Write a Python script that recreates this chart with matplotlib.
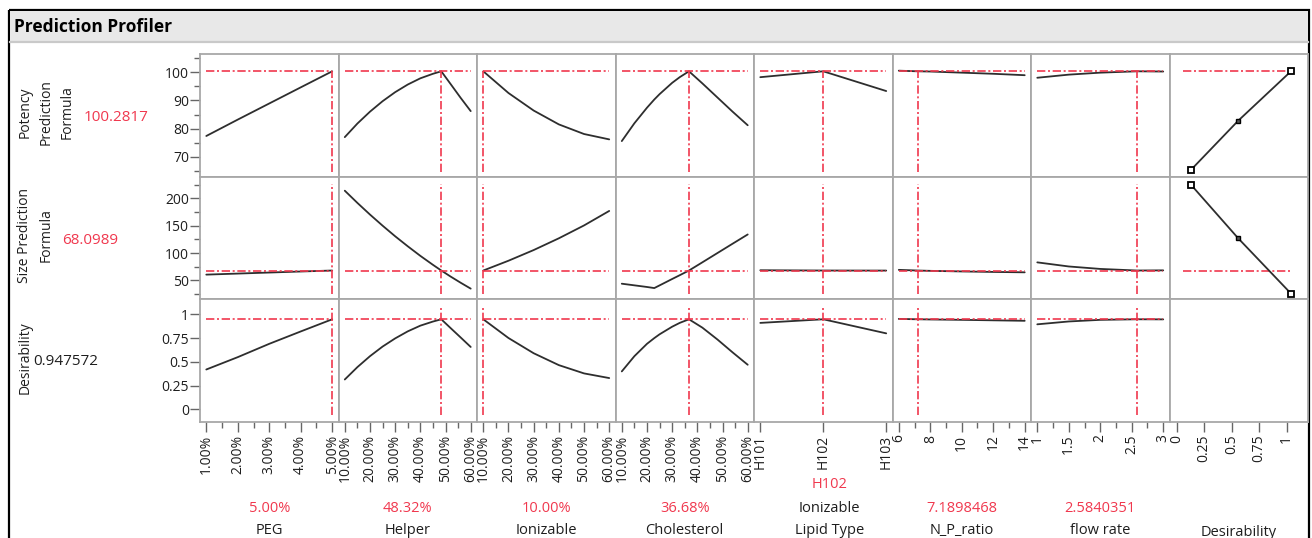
import numpy as np
import matplotlib
matplotlib.use("Agg")
import matplotlib.pyplot as plt
from matplotlib.patches import Rectangle
from matplotlib.ticker import FixedLocator

plt.rcParams['font.family'] = ['Open Sans', 'DejaVu Sans']

W, H = 1312, 538
RED = '#f0384e'
TXT = '#1e1e1e'
GRID = '#a8a8a8'
CURVE = '#2e2e2e'

# ---- responses (rows) ----
resp_names = [['Potency', 'Prediction', 'Formula'], ['Size Prediction', 'Formula'], ['Desirability']]
resp_values = ['100.2817', '68.0989', '0.947572']
resp_current = [100.2817, 68.0989, 0.947572]
resp_ylim = [(63.0, 106.4), (15.3, 239.6), (-0.133, 1.157)]
resp_major = [[70, 80, 90, 100], [50, 100, 150, 200], [0, 0.25, 0.5, 0.75, 1]]
resp_ticklabels = [['70', '80', '90', '100'], ['50', '100', '150', '200'], ['0', '0.25', '0.5', '0.75', '1']]
resp_minor = [[65, 75, 85, 95, 105], [25, 75, 125, 175, 225], []]
resp_span = [(64.7, 100.28), (26.0, 227.0), (-0.06, 1.09)]

# ---- factors (columns) ----
factor_names = ['PEG', 'Helper', 'Ionizable', 'Cholesterol', 'Ionizable\nLipid Type', 'N_P_ratio', 'flow rate']
factor_value_text = ['5.00%', '48.32%', '10.00%', '36.68%', 'H102', '7.1898468', '2.5840351']
factor_current = [5.0, 48.32, 10.0, 36.68, 1, 7.1898468, 2.5840351]
factor_range = [(1, 5), (10, 60), (10, 60), (10, 60), (0, 2), (6, 14), (1, 3)]
factor_major = [[1, 2, 3, 4, 5], [10, 20, 30, 40, 50, 60], [10, 20, 30, 40, 50, 60],
                [10, 20, 30, 40, 50, 60], [0, 1, 2], [6, 8, 10, 12, 14], [1, 1.5, 2, 2.5, 3]]
factor_ticklabels = [['1.00%', '2.00%', '3.00%', '4.00%', '5.00%'],
                     ['10.00%', '20.00%', '30.00%', '40.00%', '50.00%', '60.00%'],
                     ['10.00%', '20.00%', '30.00%', '40.00%', '50.00%', '60.00%'],
                     ['10.00%', '20.00%', '30.00%', '40.00%', '50.00%', '60.00%'],
                     ['H101', 'H102', 'H103'],
                     ['6', '8', '10', '12', '14'],
                     ['1', '1.5', '2', '2.5', '3']]
factor_minor = [[1.5, 2.5, 3.5, 4.5], [15, 25, 35, 45, 55], [15, 25, 35, 45, 55],
                [15, 25, 35, 45, 55], [], [7, 9, 11, 13], [1.25, 1.75, 2.25, 2.75]]

# ---- profile traces (x, potency, size, desirability) ----
peg_x = [1, 2, 3, 4, 5]
peg_potency = [77.4, 83.2, 88.9, 94.6, 100.28]
peg_size = [60.6, 62.5, 64.4, 66.3, 68.1]
peg_desir = [0.42, 0.55, 0.69, 0.82, 0.948]

helper_x = [10, 15, 20, 25, 30, 35, 40, 45, 48.32, 52, 56, 60]
helper_potency = [77.0, 81.8, 86.0, 89.7, 92.9, 95.6, 97.8, 99.4, 100.28, 95.8, 90.9, 86.2]
helper_size = [214, 191.7, 170.4, 150.1, 130.7, 112.4, 94.9, 78.5, 68.1, 57.1, 45.8, 35.0]
helper_desir = [0.315, 0.445, 0.560, 0.661, 0.747, 0.821, 0.881, 0.924, 0.948, 0.856, 0.757, 0.657]

ion_x = [10, 20, 30, 40, 50, 60]
ion_potency = [100.28, 92.6, 86.4, 81.5, 78.1, 76.2]
ion_size = [68.1, 86.0, 105.5, 127.0, 150.5, 177.0]
ion_desir = [0.948, 0.751, 0.591, 0.466, 0.379, 0.33]

chol_x = [10, 15, 20, 22.9, 25, 30, 33, 36.68, 42, 48, 54, 60]
chol_potency = [75.6, 81.9, 87.4, 90.3, 92.2, 96.2, 98.2, 100.28, 96.0, 91.0, 86.0, 81.2]
chol_size = [44.0, 41.0, 38.0, 36.0, 40.9, 52.6, 59.5, 68.1, 83.1, 100.1, 117.1, 134.0]
chol_desir = [0.40, 0.56, 0.69, 0.75, 0.79, 0.87, 0.91, 0.948, 0.86, 0.735, 0.60, 0.47]

lipid_x = [0, 1, 2]
lipid_potency = [98.2, 100.28, 93.3]
lipid_size = [68.6, 68.1, 68.0]
lipid_desir = [0.91, 0.948, 0.80]

np_x = [6, 7.19, 8, 10, 12, 14]
np_potency = [100.5, 100.28, 100.2, 99.8, 99.4, 98.9]
np_size = [69.3, 68.1, 67.5, 66.4, 65.5, 64.8]
np_desir = [0.952, 0.948, 0.946, 0.942, 0.937, 0.932]

flow_x = [1, 1.5, 2, 2.584, 3]
flow_potency = [98.0, 99.1, 99.8, 100.28, 100.2]
flow_size = [83.0, 75.5, 71.0, 68.1, 68.4]
flow_desir = [0.895, 0.925, 0.942, 0.948, 0.947]

traces = [
    (peg_x, [peg_potency, peg_size, peg_desir]),
    (helper_x, [helper_potency, helper_size, helper_desir]),
    (ion_x, [ion_potency, ion_size, ion_desir]),
    (chol_x, [chol_potency, chol_size, chol_desir]),
    (lipid_x, [lipid_potency, lipid_size, lipid_desir]),
    (np_x, [np_potency, np_size, np_desir]),
    (flow_x, [flow_potency, flow_size, flow_desir]),
]

# ---- desirability functions (last column) ----
des_ticks = [0, 0.25, 0.5, 0.75, 1]
des_ticklabels = ['0', '0.25', '0.5', '0.75', '1']
des_d = [0.13, 0.56, 1.04]
des_potency = [65.4, 82.8, 100.28]
des_size = [225.0, 127.0, 26.0]
des_xlim = (-0.065, 1.195)

# ---- layout (pixels) ----
col_left, col_w = 200.0, 138.5
row_top, row_h = 54.0, 122.7
dash = (5, 1.6, 1.2, 1.6)

fig = plt.figure(figsize=(W / 100, H / 100), dpi=100)
bg = fig.add_axes([0, 0, 1, 1])
bg.set_xlim(0, W)
bg.set_ylim(H, 0)
bg.axis('off')

# frame and title bar
bg.add_patch(Rectangle((9, 10), 1300, 540, fill=False, ec='black', lw=1.6))
bg.add_patch(Rectangle((10, 11), 1298, 30, fc='#e8e8e8', ec='none'))
bg.plot([10, 1308], [42, 42], color='#c9c9c9', lw=1.6)
bg.text(14, 27, 'Prediction Profiler', fontsize=12.5, fontweight='bold', color='black', va='center', ha='left')


def add_panel(c, r):
    x0 = col_left + c * col_w
    y0 = row_top + r * row_h
    ax = fig.add_axes([x0 / W, 1 - (y0 + row_h) / H, col_w / W, row_h / H])
    for s in ax.spines.values():
        s.set_color(GRID)
        s.set_linewidth(1.3)
    ax.set_xticks([])
    ax.set_yticks([])
    return ax


for r in range(3):
    for c in range(8):
        ax = add_panel(c, r)
        ax.set_ylim(*resp_ylim[r])
        if c < 7:
            lo, hi = factor_range[c]
            pad = 0.05 * (hi - lo)
            ax.set_xlim(lo - pad, hi + pad)
            xs, ys = traces[c]
            ax.plot(xs, ys[r], color=CURVE, lw=1.3, solid_capstyle='round')
            ax.plot([lo, hi], [resp_current[r]] * 2, color=RED, lw=1.2, dashes=dash)
            ax.plot([factor_current[c]] * 2, resp_span[r], color=RED, lw=1.2, dashes=dash)
        else:
            ax.set_xlim(*des_xlim)
            if r < 2:
                yv = [des_potency, des_size][r]
                ax.plot([des_d[0] - 0.07, des_d[-1]], [resp_current[r]] * 2, color=RED, lw=1.2, dashes=dash)
                ax.plot(des_d, yv, color=CURVE, lw=1.3)
                ax.plot([des_d[0], des_d[2]], [yv[0], yv[2]], 's', ms=5, mfc='white', mec='black', mew=1.3)
                ax.plot([des_d[1]], [yv[1]], 's', ms=3.5, mfc='#555555', mec='black', mew=1.0)
        # y axis on first column
        if c == 0:
            ax.yaxis.set_major_locator(FixedLocator(resp_major[r]))
            ax.yaxis.set_minor_locator(FixedLocator(resp_minor[r]))
            ax.set_yticklabels(resp_ticklabels[r])
            ax.tick_params(axis='y', which='major', length=7, width=1, color='#666666',
                           labelsize=10, labelcolor=TXT, pad=1)
            ax.tick_params(axis='y', which='minor', length=4, width=1, color='#666666')
        # x axis on bottom row
        if r == 2:
            if c < 7:
                ax.xaxis.set_major_locator(FixedLocator(factor_major[c]))
                ax.xaxis.set_minor_locator(FixedLocator(factor_minor[c]))
                ax.set_xticklabels(factor_ticklabels[c], rotation=90)
            else:
                ax.xaxis.set_major_locator(FixedLocator(des_ticks))
                ax.set_xticklabels(des_ticklabels, rotation=90)
            ax.tick_params(axis='x', which='major', length=7, width=1, color='#666666',
                           labelsize=10, labelcolor=TXT, pad=2)
            ax.tick_params(axis='x', which='minor', length=4, width=1, color='#666666')

# response labels at left
row_centers = [row_top + (r + 0.5) * row_h for r in range(3)]
line_x = [25, 46, 67]
for r in range(3):
    for i, name in enumerate(resp_names[r]):
        bg.text(line_x[i], row_centers[r] - 3, name, rotation=90, fontsize=10,
                color=TXT, ha='center', va='center')
bg.text(116, row_centers[0] + 2, resp_values[0], fontsize=11, color=RED, ha='center', va='center')
bg.text(90, row_centers[1] + 2, resp_values[1], fontsize=11, color=RED, ha='center', va='center')
bg.text(33, row_centers[2] + 1, resp_values[2], fontsize=11, color=TXT, ha='left', va='center')

# factor labels at bottom
for c in range(7):
    xc = col_left + (c + 0.5) * col_w
    if c == 4:
        bg.text(xc + 6, 484, factor_value_text[c], fontsize=10.5, color=RED, ha='center', va='center')
        lines = factor_names[c].split('\n')
        bg.text(xc + 6, 508, lines[0], fontsize=10.5, color=TXT, ha='center', va='center')
        bg.text(xc + 6, 530, lines[1], fontsize=10.5, color=TXT, ha='center', va='center')
    else:
        bg.text(xc, 508, factor_value_text[c], fontsize=10.5, color=RED, ha='center', va='center')
        bg.text(xc, 530, factor_names[c], fontsize=10.5, color=TXT, ha='center', va='center')
bg.text(col_left + 7.5 * col_w, 532, 'Desirability', fontsize=10.5, color=TXT, ha='center', va='center')

fig.savefig('out.png', dpi=100)
